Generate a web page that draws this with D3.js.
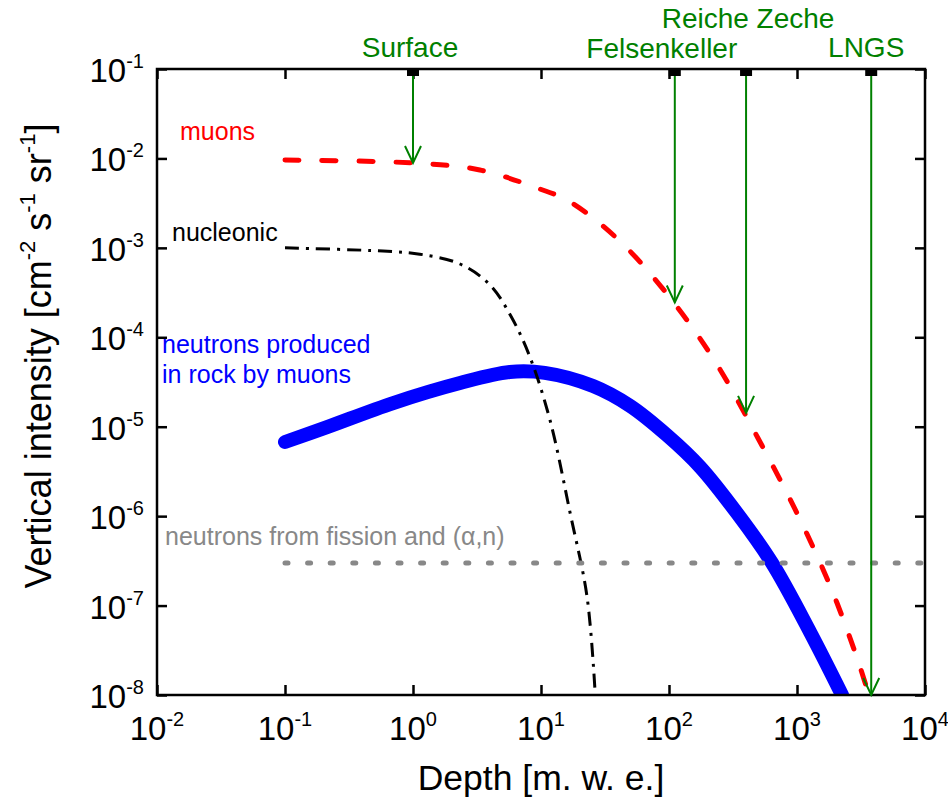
<!DOCTYPE html>
<html>
<head>
<meta charset="utf-8">
<script src="https://cdn.jsdelivr.net/npm/d3@7"></script>
<style>
  body { margin: 0; background: #fff; }
  svg text { font-family: "Liberation Sans", Arial, sans-serif; }
</style>
</head>
<body>
<svg id="chart" width="948" height="805"></svg>
<script>
// tick values (decades)
const xTicks = [1e-2, 1e-1, 1, 10, 100, 1e3, 1e4];
const yTicks = [1e-8, 1e-7, 1e-6, 1e-5, 1e-4, 1e-3, 1e-2, 1e-1];

// muons (red dashed)
const muonDepth = [0.1, 1, 3.33, 9.8, 15.4, 25.5, 49.5, 111, 233, 495, 1000, 1844, 2891, 3650];
const muonIntensity = [9.6e-3, 8.9e-3, 7.43e-3, 4.55e-3, 3.52e-3, 2.16e-3, 9.2e-4, 2.36e-4, 5.16e-5, 7.48e-6, 1.08e-6, 1.57e-7, 2.8e-8, 1e-8];

// nucleonic (black dash-dot)
const nucDepth = [0.1, 0.583, 1.13, 2.33, 4.0, 5.93, 8.2, 11.75, 16.9, 22.9, 26.4];
const nucIntensity = [1.0e-3, 9.2e-4, 8.5e-4, 6.6e-4, 3.85e-4, 1.64e-4, 6.0e-5, 1.19e-5, 1.08e-6, 1.25e-7, 1.14e-8];

// neutrons produced in rock by muons (thick blue)
const neutronDepth = [0.1, 0.213, 0.70, 2.33, 5.7, 10.7, 25.5, 49.6, 96, 175, 340, 638, 1264, 2250];
const neutronIntensity = [6.75e-6, 9.9e-6, 1.84e-5, 3.08e-5, 4.09e-5, 4.0e-5, 2.85e-5, 1.71e-5, 8.07e-6, 3.55e-6, 1.08e-6, 2.99e-7, 5.07e-8, 1e-8];

// neutrons from fission and (alpha,n) (gray dotted)
const fissionDepth = [0.1, 1e4];
const fissionIntensity = [3e-7, 3e-7];

// underground sites
const siteNames = ['Surface', 'Felsenkeller', 'Reiche Zeche', 'LNGS'];
const siteDepths = [1, 111, 400, 3800];
const siteIntensity = [8.9e-3, 2.45e-4, 1.43e-5, 1e-8];

const svg = d3.select('#chart');
const margin = { top: 69, right: 23, bottom: 110, left: 157 };
const width = +svg.attr('width') - margin.left - margin.right;
const height = +svg.attr('height') - margin.top - margin.bottom;

const x = d3.scaleLog().domain([1e-2, 1e4]).range([0, width]);
const y = d3.scaleLog().domain([1e-8, 1e-1]).range([height, 0]);

const g = svg.append('g')
  .attr('transform', 'translate(' + margin.left + ',' + margin.top + ')');

g.append('clipPath').attr('id', 'plotclip')
  .append('rect').attr('width', width).attr('height', height);

const zip = (xs, ys) => xs.map((d, i) => [d, ys[i]]);
const line = d3.line()
  .x(d => x(d[0]))
  .y(d => y(d[1]))
  .curve(d3.curveCatmullRom.alpha(0.5));

const plot = g.append('g').attr('clip-path', 'url(#plotclip)');

plot.append('path')
  .datum(zip(neutronDepth, neutronIntensity))
  .attr('d', line)
  .attr('fill', 'none')
  .attr('stroke', '#0000ff')
  .attr('stroke-width', 14)
  .attr('stroke-linecap', 'round');

plot.append('path')
  .datum(zip(nucDepth, nucIntensity))
  .attr('d', line)
  .attr('fill', 'none')
  .attr('stroke', '#000')
  .attr('stroke-width', 3)
  .attr('stroke-dasharray', '14,7,3,7');

plot.append('path')
  .datum(zip(fissionDepth, fissionIntensity))
  .attr('d', line)
  .attr('fill', 'none')
  .attr('stroke', '#888')
  .attr('stroke-width', 5)
  .attr('stroke-linecap', 'round')
  .attr('stroke-dasharray', '3,19.6');

plot.append('path')
  .datum(zip(muonDepth, muonIntensity))
  .attr('d', line)
  .attr('fill', 'none')
  .attr('stroke', '#ff0000')
  .attr('stroke-width', 5)
  .attr('stroke-linecap', 'round')
  .attr('stroke-dasharray', '14,23');

// axes: inward ticks on all four sides
function styleAxis(sel) {
  sel.select('.domain').remove();
  sel.selectAll('.tick line').attr('stroke', '#000').attr('stroke-width', 2.5);
}
g.append('g').attr('transform', 'translate(0,' + height + ')')
  .call(d3.axisBottom(x).tickValues(xTicks).tickSize(-10).tickFormat(''))
  .call(styleAxis);
g.append('g')
  .call(d3.axisTop(x).tickValues(xTicks).tickSize(-10).tickFormat(''))
  .call(styleAxis);
g.append('g')
  .call(d3.axisLeft(y).tickValues(yTicks).tickSize(-10).tickFormat(''))
  .call(styleAxis);
g.append('g').attr('transform', 'translate(' + width + ',0)')
  .call(d3.axisRight(y).tickValues(yTicks).tickSize(-10).tickFormat(''))
  .call(styleAxis);

g.append('rect')
  .attr('width', width).attr('height', height)
  .attr('fill', 'none').attr('stroke', '#000').attr('stroke-width', 2.5);

// tick labels as 10^n
function powLabel(sel) {
  sel.append('tspan').text('10');
  sel.append('tspan')
    .attr('font-size', 20).attr('dy', -14)
    .text(d => Math.round(Math.log10(d)));
}
g.selectAll('.xlab').data(xTicks).join('text')
  .attr('class', 'xlab')
  .attr('x', d => x(d))
  .attr('y', height + 45)
  .attr('text-anchor', 'middle')
  .attr('font-size', 33)
  .call(powLabel);
g.selectAll('.ylab').data(yTicks).join('text')
  .attr('class', 'ylab')
  .attr('x', -13)
  .attr('y', d => y(d) + 13)
  .attr('text-anchor', 'end')
  .attr('font-size', 33)
  .call(powLabel);

// axis titles
svg.append('text')
  .attr('x', margin.left + width / 2)
  .attr('y', 790)
  .attr('text-anchor', 'middle')
  .attr('font-size', 35.5)
  .text('Depth [m. w. e.]');

const yt = svg.append('text')
  .attr('transform', 'translate(51,' + (margin.top + height / 2 - 26) + ') rotate(-90)')
  .attr('text-anchor', 'middle')
  .attr('font-size', 36);
yt.append('tspan').text('Vertical intensity [cm');
yt.append('tspan').attr('font-size', 22).attr('dy', -16).text('-2');
yt.append('tspan').attr('dy', 16).text(' s');
yt.append('tspan').attr('font-size', 22).attr('dy', -16).text('-1');
yt.append('tspan').attr('dy', 16).text(' sr');
yt.append('tspan').attr('font-size', 22).attr('dy', -16).text('-1');
yt.append('tspan').attr('dy', 16).text(']');

// curve labels
g.append('text').attr('x', 23).attr('y', 71).attr('font-size', 25)
  .attr('fill', '#ff0000').text('muons');
g.append('text').attr('x', 15).attr('y', 172).attr('font-size', 25)
  .attr('fill', '#000').text('nucleonic');
const nl = g.append('text').attr('font-size', 25).attr('fill', '#0000ff');
nl.append('tspan').attr('x', 5).attr('y', 284).text('neutrons produced');
nl.append('tspan').attr('x', 5).attr('y', 314).text('in rock by muons');
g.append('text').attr('x', 8).attr('y', 476).attr('font-size', 25)
  .attr('fill', '#888').text('neutrons from fission and (\u03b1,n)');

// site markers with arrows
const green = '#008000';
const labelDx = [-3, -13, 2, -5];
const labelY = [-12, -11, -41, -12];
siteNames.forEach((name, i) => {
  const px = x(siteDepths[i]);
  const py = y(siteIntensity[i]);
  g.append('line')
    .attr('x1', px).attr('x2', px).attr('y1', 0).attr('y2', py)
    .attr('stroke', green).attr('stroke-width', 2);
  g.append('path')
    .attr('d', 'M' + (px - 8) + ',' + (py - 17) + 'L' + px + ',' + py + 'L' + (px + 8) + ',' + (py - 17))
    .attr('fill', 'none').attr('stroke', green).attr('stroke-width', 2);
  g.append('rect')
    .attr('x', px - 6).attr('y', 0).attr('width', 12).attr('height', 7)
    .attr('fill', '#000');
  g.append('text')
    .attr('x', px + labelDx[i]).attr('y', labelY[i])
    .attr('text-anchor', 'middle')
    .attr('font-size', 28)
    .attr('fill', green)
    .text(name);
});
</script>
</body>
</html>
